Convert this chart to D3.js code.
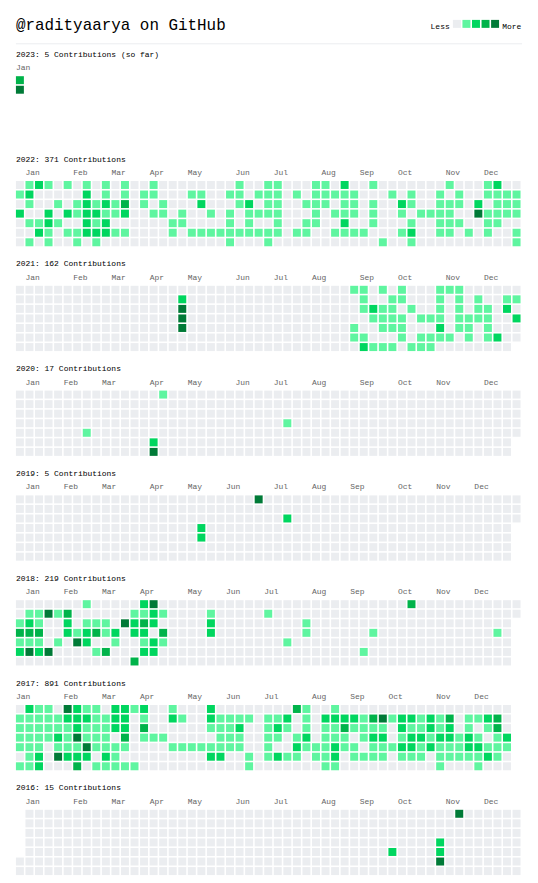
<!DOCTYPE html>
<html><head><meta charset="utf-8">
<script src="https://cdn.jsdelivr.net/npm/d3@7"></script>
<style>html,body{margin:0;padding:0;background:#fff;}svg{display:block;}</style>
</head><body>
<svg id="chart" width="538" height="883"></svg>
<script>
// ---------- data ----------
const username = "radityaarya";
const years  = [2023, 2022, 2021, 2020, 2019, 2018, 2017, 2016];
const totals = [5, 371, 162, 17, 5, 219, 891, 15];
const lastDays  = ["2023-01-02","2022-12-31","2021-12-31","2020-12-31","2019-12-31","2018-12-31","2017-12-31","2016-12-31"];
const firstDays = [null, null, null, null, null, null, null, "2016-01-01"];
const currentYear = 2023;
const monthNames = ["Jan","Feb","Mar","Apr","May","Jun","Jul","Aug","Sep","Oct","Nov","Dec"];
const legendLabels = ["Less", "More"];
const grades = [0, 1, 2, 3, 4];
const gradeColors = ["#ebedf0", "#5ff5a0", "#00d65f", "#00b34a", "#007a37"];

// intensity per weekday row (Sun..Sat), one digit per week column ("|" every 10 weeks)
const levels2023 = ["3","4","0","0","0","0","0"];
const levels2022 = [
  "0121010101|0100100000|0001001100|0110200100|0000010001|200",
  "1200000201|0101100011|0011011101|0111110001|0100101001|111",
  "0100101212|1301010002|0001201100|1110110100|2100111020|111",
  "2002021221|1200110100|1010111100|0101110100|1011110041|111",
  "0112100212|0000001100|0010100100|1100200100|0100111001|100",
  "0021011222|1100001011|1111111101|1001111000|1200110101|001",
  "0101001010|0000000000|0010001000|0000000010|0100000000|001"
];
const levels2021 = [
  "0000000000|0000000000|0000000000|0000011010|1000111000|000",
  "0000000000|0000000200|0000000000|0000001001|1000101010|011",
  "0000000000|0000000400|0000000000|0000001211|0100101011|020",
  "0000000000|0000000400|0000000000|0000000111|1011101111|002",
  "0000000000|0000000400|0000000000|0000010011|1000201101|000",
  "0000000000|0000000000|0000000000|0000011000|1011110101|200",
  "0000000000|0000000000|0000000000|0000002111|0111000000|000"
];
const levels2020 = [
  "0000000000|0000010000|0000000000|0000000000|0000000000|000",
  "0000000000|0000000000|0000000000|0000000000|0000000000|000",
  "0000000000|0000000000|0000000000|0000000000|0000000000|000",
  "0000000000|0000000000|0000000010|0000000000|0000000000|000",
  "0000000100|0000000000|0000000000|0000000000|0000000000|000",
  "0000000000|0000200000|0000000000|0000000000|0000000000|000",
  "0000000000|0000400000|0000000000|0000000000|0000000000|000"
];
const levels2019 = [
  "0000000000|0000000000|0000040000|0000000000|0000000000|000",
  "0000000000|0000000000|0000000000|0000000000|0000000000|000",
  "0000000000|0000000000|0000000020|0000000000|0000000000|000",
  "0000000000|0000000002|0000000000|0000000000|0000000000|000",
  "0000000000|0000000002|0000000000|0000000000|0000000000|000",
  "0000000000|0000000000|0000000000|0000000000|0000000000|000",
  "0000000000|0000000000|0000000000|0000000000|0000000000|000"
];
const levels2018 = [
  "0000000100|0002400000|0000000000|0000000000|0300000000|000",
  "0114130000|0011210000|1000001000|0000000000|0000000000|000",
  "1210020111|0423200000|2000000000|1000000000|0000000000|000",
  "3330021231|2022030000|2000000000|1000000100|0000000000|100",
  "1110104200|1001210000|0000000010|0000000000|0000000000|000",
  "2424000013|0002200000|0000000000|0000001000|0000000000|000",
  "0000000000|0030000000|0000000000|0000000000|0000000000|000"
];
const levels2017 = [
  "0211042110|2212001000|2000000003|1001000000|0000000000|00",
  "1111122211|2201002100|2111101120|1022221341|2212130112|30",
  "1111112111|2203000000|1112001210|1011311110|2112120101|30",
  "1111214111|0301110000|0111001101|2011101220|1221221210|12",
  "1110111411|1100001111|1111001002|1112110111|2212111221|11",
  "0120422202|1000000000|2200101211|0112011110|1110111112|10",
  "1120003011|1110000000|0000100000|0011000000|0000100010|00"
];
const levels2016 = [
  "0000000000|0000000000|0000000000|0000000000|0000004000|000",
  "0000000000|0000000000|0000000000|0000000000|0000000000|000",
  "0000000000|0000000000|0000000000|0000000000|0000000000|000",
  "0000000000|0000000000|0000000000|0000000000|0000200000|000",
  "0000000000|0000000000|0000000000|0000000002|0000200000|000",
  "0000000000|0000000000|0000000000|0000000000|0000400000|000",
  "0000000000|0000000000|0000000000|0000000000|0000000000|000"
];
const levelsByYear = [levels2023, levels2022, levels2021, levels2020, levels2019, levels2018, levels2017, levels2016];

// ---------- layout ----------
const W = 538, H = 883;
const left = 15.92, pitch = 9.551, cell = 7.96;
const firstGridTop = 76.2, yearStep = 104.8;
const textColor = "#000000", metaColor = "#666666";
const fontFace = "'Liberation Mono', 'DejaVu Sans Mono', monospace";

const svg = d3.select("#chart");
svg.append("rect").attr("width", W).attr("height", H).attr("fill", "#ffffff");

// header
svg.append("text").attr("x", left).attr("y", 29.5)
  .attr("font-family", fontFace).attr("font-size", 15.9).attr("fill", textColor)
  .text(`@${username} on GitHub`);
svg.append("line").attr("x1", left).attr("x2", W - left).attr("y1", 43.8).attr("y2", 43.8)
  .attr("stroke", gradeColors[0]).attr("stroke-width", 1);

const legendX = d3.scaleLinear().domain([0, 1]).range([452.9, 452.9 + pitch]);
svg.selectAll("rect.legend").data(grades).join("rect").attr("class", "legend")
  .attr("x", d => legendX(d)).attr("y", 19.9).attr("width", cell).attr("height", cell)
  .attr("fill", d => gradeColors[d]);
svg.selectAll("text.legend").data(legendLabels).join("text").attr("class", "legend")
  .attr("x", (d, i) => i === 0 ? 430.6 : 502.2).attr("y", 29)
  .attr("font-family", fontFace).attr("font-size", 7.96).attr("fill", textColor)
  .text(d => d);

const parse = d3.timeParse("%Y-%m-%d");
const color = d3.scaleOrdinal().domain(grades).range(gradeColors);

years.forEach((yr, i) => {
  const rows = levelsByYear[i].map(s => s.replace(/\|/g, "").split("").map(Number));
  const last = parse(lastDays[i]);
  const first = firstDays[i] ? parse(firstDays[i]) : null;
  const weeks = d3.timeWeek.range(d3.timeWeek.floor(new Date(yr, 0, 1)), last);
  const top = firstGridTop + yearStep * i;
  const x = d3.scaleLinear().domain([0, 1]).range([left, left + pitch]);
  const y = d3.scaleLinear().domain([0, 1]).range([top, top + pitch]);
  const g = svg.append("g");

  g.append("text").attr("x", left).attr("y", top - 19.5)
    .attr("font-family", fontFace).attr("font-size", 7.96).attr("fill", textColor)
    .text(`${yr}: ${d3.format(",")(totals[i])} Contributions${yr === currentYear ? " (so far)" : ""}`);

  const cells = [];
  weeks.forEach((wd, c) => {
    for (let r = 0; r < 7; r++) {
      const date = d3.timeDay.offset(wd, r);
      if (date > last) continue;
      if (first && date < first) continue;
      cells.push({ c, r, level: rows[r][c] || 0 });
    }
  });
  g.selectAll("rect").data(cells).join("rect")
    .attr("x", d => x(d.c)).attr("y", d => y(d.r))
    .attr("width", cell).attr("height", cell)
    .attr("fill", d => color(d.level));

  const labels = [];
  let lastMonth = -1;
  weeks.forEach((wd, c) => {
    const m = wd.getMonth();
    if (c === 0 && m === 11) return;
    if (m !== lastMonth) { labels.push({ c, name: monthNames[m] }); lastMonth = m; }
  });
  g.selectAll("text.month").data(labels).join("text").attr("class", "month")
    .attr("x", d => x(d.c)).attr("y", top - 6)
    .attr("font-family", fontFace).attr("font-size", 7.96).attr("fill", metaColor)
    .text(d => d.name);
});
</script>
</body></html>
